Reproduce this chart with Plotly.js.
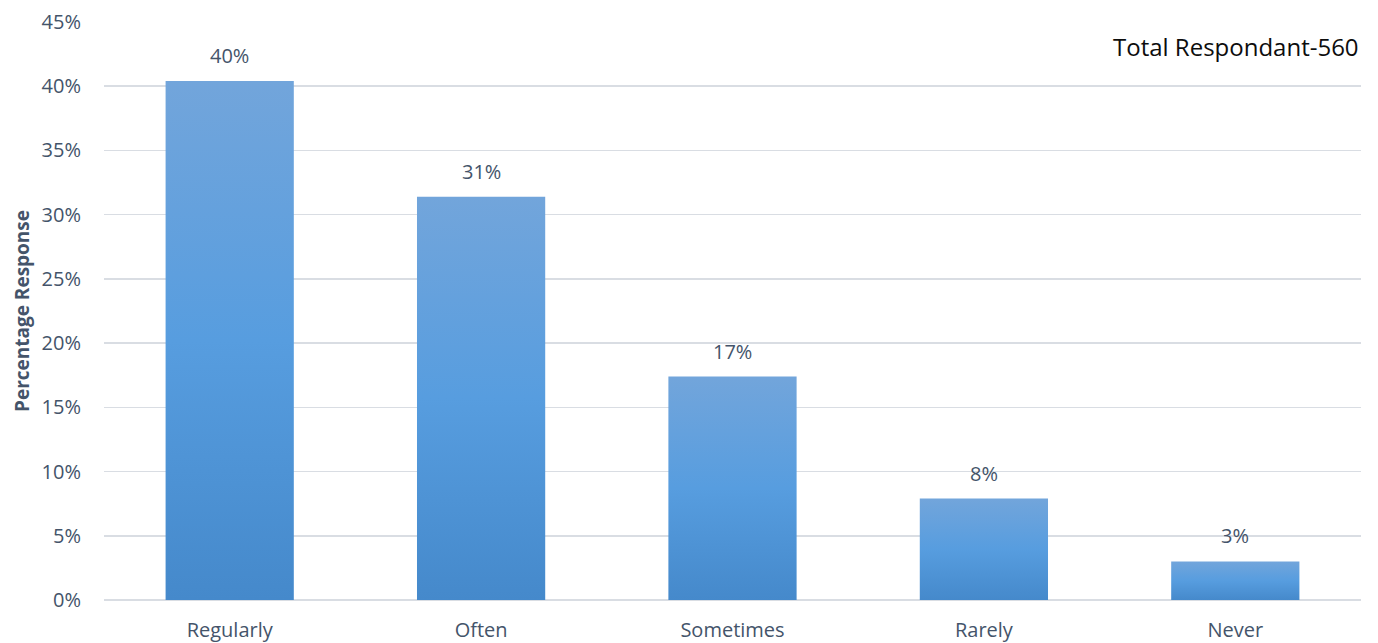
<!DOCTYPE html>
<html>
<head>
<meta charset="utf-8">
<script src="https://cdn.plot.ly/plotly-3.0.1.min.js"></script>
<style>
html,body{margin:0;padding:0;background:#fff;}
#chart{width:1378px;height:643px;}
</style>
</head>
<body>
<div id="chart"></div>
<script>
const categories = ["Regularly", "Often", "Sometimes", "Rarely", "Never"];
const percentResponse = [40.4, 31.4, 17.4, 7.9, 3.0];
const yTickValues = [0, 5, 10, 15, 20, 25, 30, 35, 40, 45];
const totalRespondents = 560;

const textColor = "#44546A";
const fontFamily = "'Open Sans', 'Noto Sans', sans-serif";

const trace = {
  type: "bar",
  x: categories,
  y: percentResponse,
  marker: {color: "#5599DA", line: {width: 0}},
  hoverinfo: "none"
};

const labelAnnotations = categories.map((c, i) => ({
  x: c,
  y: percentResponse[i],
  xref: "x",
  yref: "y",
  text: Math.round(percentResponse[i]) + "%",
  showarrow: false,
  yanchor: "bottom",
  yshift: 10,
  font: {family: fontFamily, size: 20, color: textColor}
}));

labelAnnotations.push({
  xref: "paper", yref: "paper",
  x: 1, y: 0.958,
  xanchor: "right", yanchor: "middle",
  text: "Total Respondant-" + totalRespondents,
  showarrow: false,
  font: {family: fontFamily, size: 24, color: "#0d0d0d"}
});

const layout = {
  width: 1378,
  height: 643,
  margin: {l: 104, r: 17, t: 22, b: 43},
  paper_bgcolor: "#ffffff",
  plot_bgcolor: "#ffffff",
  bargap: 0.49,
  showlegend: false,
  font: {family: fontFamily, color: textColor, size: 20},
  xaxis: {
    type: "category",
    showgrid: false,
    showline: false,
    zeroline: false,
    ticks: "",
    ticklabelstandoff: 16,
    tickfont: {family: fontFamily, size: 20, color: textColor},
    fixedrange: true
  },
  yaxis: {
    range: [0, 45],
    tickvals: yTickValues,
    ticktext: yTickValues.map(v => v + "%"),
    showgrid: true,
    gridcolor: "#D9DDE3",
    gridwidth: 1.5,
    zeroline: true,
    zerolinecolor: "#D9DDE3",
    zerolinewidth: 1.5,
    showline: false,
    ticks: "",
    ticklabelstandoff: 22,
    tickfont: {family: fontFamily, size: 20, color: textColor},
    title: {text: "<b>Percentage Response</b>", font: {family: fontFamily, size: 19, color: textColor}, standoff: 6},
    fixedrange: true
  },
  annotations: labelAnnotations
};

Plotly.newPlot("chart", [trace], layout, {displayModeBar: false, staticPlot: true}).then(gd => {
  const svg = gd.querySelector("svg.main-svg");
  const ns = "http://www.w3.org/2000/svg";
  let defs = svg.querySelector("defs");
  if (!defs) { defs = document.createElementNS(ns, "defs"); svg.insertBefore(defs, svg.firstChild); }
  const grad = document.createElementNS(ns, "linearGradient");
  grad.setAttribute("id", "barGrad");
  grad.setAttribute("x1", "0"); grad.setAttribute("y1", "0");
  grad.setAttribute("x2", "0"); grad.setAttribute("y2", "1");
  [["0", "#72A5DB"], ["0.5", "#579DDF"], ["1", "#4589CB"]].forEach(([o, c]) => {
    const s = document.createElementNS(ns, "stop");
    s.setAttribute("offset", o); s.setAttribute("stop-color", c);
    grad.appendChild(s);
  });
  defs.appendChild(grad);
  gd.querySelectorAll(".bars .point path").forEach(p => {
    p.style.fill = "url(#barGrad)";
  });
});
</script>
</body>
</html>
